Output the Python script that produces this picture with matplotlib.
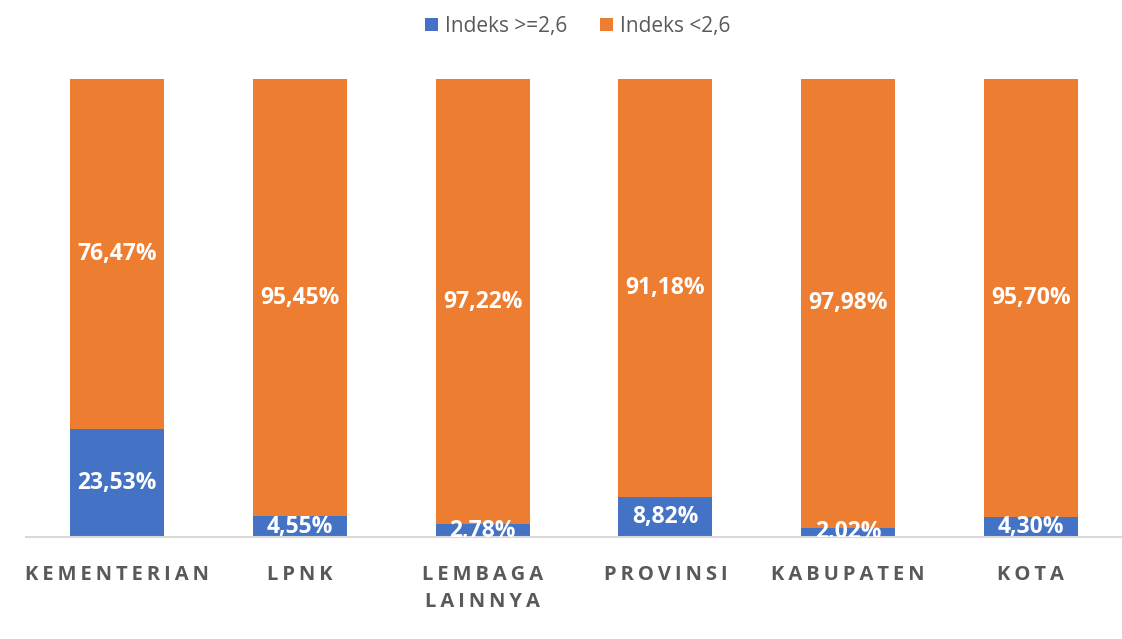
import matplotlib
matplotlib.use("Agg")
import matplotlib.pyplot as plt
import numpy as np

categories = ["KEMENTERIAN", "LPNK", "LEMBAGA\nLAINNYA", "PROVINSI", "KABUPATEN", "KOTA"]
high = [23.53, 4.55, 2.78, 8.82, 2.02, 4.30]   # Indeks >=2,6
low = [76.47, 95.45, 97.22, 91.18, 97.98, 95.70]  # Indeks <2,6
series_names = ["Indeks >=2,6", "Indeks <2,6"]

BLUE = "#4472C4"
ORANGE = "#ED7D31"
FONT = ["Open Sans", "DejaVu Sans"]


def spaced(s):
    # imitate Excel's letter spacing
    return "\n".join("\u2009".join(line) for line in s.split("\n"))


def fmt(v):
    return f"{v:.2f}".replace(".", ",") + "%"


fig = plt.figure(figsize=(11.22, 6.39), dpi=100)
ax = fig.add_axes([26 / 1122, 1 - 537 / 639, 1096 / 1122, 458 / 639])

x = np.arange(len(categories))
w = 0.515
ax.bar(x, high, w, color=BLUE, label=series_names[0], zorder=2)
ax.bar(x, low, w, bottom=high, color=ORANGE, label=series_names[1], zorder=2)

for i in range(len(categories)):
    ax.text(x[i], high[i] / 2, fmt(high[i]), ha="center", va="center",
            color="white", fontsize=16.5, fontweight="bold", family=FONT,
            clip_on=True, zorder=3)
    ax.text(x[i], high[i] + low[i] / 2, fmt(low[i]), ha="center", va="center",
            color="white", fontsize=16.5, fontweight="bold", family=FONT,
            clip_on=True, zorder=3)

ax.set_xlim(-0.5, len(categories) - 0.5)
ax.set_ylim(0, 100)
ax.set_yticks([])
ax.set_xticks(x)
ax.set_xticklabels([spaced(c) for c in categories], fontsize=14.5, fontweight="bold",
                   color="#595959", family=FONT, linespacing=1.5)
ax.tick_params(axis="x", length=0, pad=20)
for s in ["top", "right", "left"]:
    ax.spines[s].set_visible(False)
ax.spines["bottom"].set_color("#D9D9D9")
ax.spines["bottom"].set_linewidth(1.5)

leg = fig.legend(loc="upper center", bbox_to_anchor=(0.515, 1.005), ncol=2, frameon=False,
                 prop={"family": FONT, "size": 15}, handlelength=0.6, handleheight=0.6,
                 handletextpad=0.35, columnspacing=1.6)
for t in leg.get_texts():
    t.set_color("#595959")

fig.savefig("out.png", dpi=100)
